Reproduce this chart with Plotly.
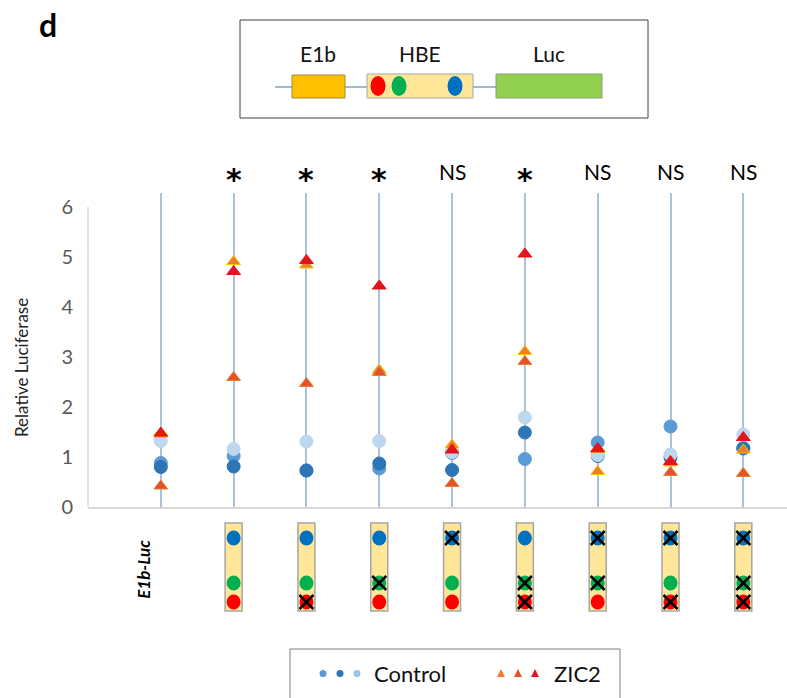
import plotly.graph_objects as go

# ---------------- data ----------------
columns = ["E1b-Luc", "HBE wt", "HBE mutR", "HBE mutG", "HBE mutB",
           "HBE mutGR", "HBE mutBG", "HBE mutBR", "HBE mutBGR"]
sig_labels = ["", "*", "*", "*", "NS", "*", "NS", "NS", "NS"]

control_1 = [0.88, 1.02, 0.73, 0.77, 1.08, 0.96, 1.29, 1.61, 1.18]   # medium blue
control_2 = [0.80, 0.81, 0.73, 0.87, 0.74, 1.49, 1.02, 0.99, 1.17]   # dark blue
control_3 = [1.32, 1.16, 1.31, 1.32, 1.10, 1.79, 1.04, 1.05, 1.45]   # light blue

zic2_1 = [1.45, 4.91, 4.84, 2.74, 1.24, 3.11, 0.71, 0.88, 1.14]      # orange
zic2_2 = [0.42, 2.59, 2.47, 2.69, 0.47, 2.91, 1.15, 0.69, 0.67]      # red-orange
zic2_3 = [1.48, 4.71, 4.93, 4.42, 1.14, 5.06, 1.17, 0.91, 1.39]      # red

# HBE motif sites per construct (None = no HBE element), 1 = mutated
mut_blue = [None, 0, 0, 0, 1, 0, 1, 1, 1]
mut_green = [None, 0, 0, 1, 0, 1, 1, 0, 1]
mut_red = [None, 0, 1, 0, 0, 1, 0, 1, 1]

y_ticks = [0, 1, 2, 3, 4, 5, 6]

# ---------------- layout helpers ----------------
W, H = 787, 698
L, R, T, B = 88, 0, 193, 191
PW, PH = W - L - R, H - T - B
YMAX = 6.28
XMIN, XMAX = -1.0, 8.6
XUNIT = PW / (XMAX - XMIN)   # pixels per category


def px(xp):
    return (xp - L) / PW


def py(yp):
    return (H - B - yp) / PH


FONT = "Lato, 'Open Sans', sans-serif"
xs = list(range(len(columns)))

fig = go.Figure()

series = [
    ("Control", control_1, "#5B9BD5", "#5B9BD5", "circle", 13),
    ("Control", control_2, "#2E75B6", "#2E75B6", "circle", 13),
    ("Control", control_3, "#BDD7EE", "#BDD7EE", "circle", 13),
    ("ZIC2", zic2_1, "#ED7D31", "#FFC000", "triangle-up", 12),
    ("ZIC2", zic2_2, "#E2532A", "#ED7D31", "triangle-up", 12),
    ("ZIC2", zic2_3, "#E3141B", "#E3141B", "triangle-up", 12),
]
for name, vals, col, edge, sym, size in series:
    fig.add_trace(go.Scatter(
        x=xs, y=vals, mode="markers", name=name, showlegend=False,
        marker=dict(color=col, symbol=sym, size=size,
                    line=dict(color=edge, width=1)),
        cliponaxis=False, hoverinfo="y"))

# ---------------- motif boxes under the axis ----------------
row_py = {"blue": 538, "green": 583, "red": 602}
row_col = {"blue": "#0070C0", "green": "#00B050", "red": "#FF0000"}
shapes = []
for i in xs:
    if mut_blue[i] is None:
        continue
    shapes.append(dict(type="rect", xref="x", yref="paper",
                       x0=i - 8.5 / XUNIT, x1=i + 8.5 / XUNIT, y0=py(523), y1=py(611),
                       fillcolor="#FFE699", line=dict(color="#A6A6A6", width=1.5)))

rr = 7.0 / XUNIT
for key, muts in (("blue", mut_blue), ("green", mut_green), ("red", mut_red)):
    cy = row_py[key]
    for i in xs:
        if muts[i] is None:
            continue
        shapes.append(dict(type="circle", xref="x", yref="paper",
                           x0=i - rr, x1=i + rr, y0=py(cy + 7.5), y1=py(cy - 7.5),
                           fillcolor=row_col[key], line=dict(width=0)))
        if muts[i] == 1:
            xr = 7.0 / XUNIT
            path = "M {a} {b} L {c} {d} M {a} {d} L {c} {b}".format(
                a=i - xr, b=py(cy - 7), c=i + xr, d=py(cy + 7))
            shapes.append(dict(type="path", xref="x", yref="paper", path=path,
                               line=dict(color="black", width=2.5)))

# y axis line (only up to 6)
shapes.append(dict(type="line", xref="paper", yref="y", x0=0, x1=0, y0=0, y1=6,
                   line=dict(color="#D9D9D9", width=1.5)))

# ---------------- top schematic ----------------
shapes.append(dict(type="rect", xref="paper", yref="paper",
                   x0=px(240), x1=px(648), y0=py(20), y1=py(118),
                   line=dict(color="#404040", width=1), fillcolor="white"))
shapes.append(dict(type="line", xref="paper", yref="paper",
                   x0=px(275), x1=px(497), y0=py(87), y1=py(87),
                   line=dict(color="#7FA3C5", width=1.5)))
shapes.append(dict(type="rect", xref="paper", yref="paper",
                   x0=px(292), x1=px(345), y0=py(75), y1=py(98),
                   fillcolor="#FFC000", line=dict(color="#A68A3A", width=1)))
shapes.append(dict(type="rect", xref="paper", yref="paper",
                   x0=px(367), x1=px(473), y0=py(74), y1=py(98),
                   fillcolor="#FFE699", line=dict(color="#A6A6A6", width=1)))
shapes.append(dict(type="rect", xref="paper", yref="paper",
                   x0=px(496), x1=px(602), y0=py(74), y1=py(98),
                   fillcolor="#92D050", line=dict(color="#8C9C7C", width=1)))
for cx, col in ((378, "#FF0000"), (399, "#00B050"), (455, "#0070C0")):
    shapes.append(dict(type="circle", xref="paper", yref="paper",
                       x0=px(cx - 7.5), x1=px(cx + 7.5), y0=py(76), y1=py(96),
                       fillcolor=col, line=dict(width=0)))

# ---------------- legend ----------------
shapes.append(dict(type="rect", xref="paper", yref="paper",
                   x0=px(290), x1=px(620), y0=py(700), y1=py(649),
                   line=dict(color="#7F7F7F", width=1), fillcolor="white"))
for cx, col in ((323, "#5B9BD5"), (340, "#2E75B6"), (357, "#9DC3E6")):
    shapes.append(dict(type="circle", xref="paper", yref="paper",
                       x0=px(cx - 3.5), x1=px(cx + 3.5), y0=py(677), y1=py(670),
                       fillcolor=col, line=dict(width=0)))
for cx, col in ((501, "#ED7D31"), (518, "#E2532A"), (535, "#E3141B")):
    shapes.append(dict(type="path", xref="paper", yref="paper",
                       path="M {} {} L {} {} L {} {} Z".format(
                           px(cx - 4), py(677), px(cx + 4), py(677), px(cx), py(669)),
                       fillcolor=col, line=dict(width=0)))

annotations = []
annotations.append(dict(text="Control", x=px(372), y=py(673), xref="paper", yref="paper",
                        xanchor="left", yanchor="middle", showarrow=False,
                        font=dict(family=FONT, size=22, color="#111111")))
annotations.append(dict(text="ZIC2", x=px(552), y=py(673), xref="paper", yref="paper",
                        xanchor="left", yanchor="middle", showarrow=False,
                        font=dict(family=FONT, size=22, color="#111111")))

for lbl, cx in (("E1b", 318), ("HBE", 420), ("Luc", 549)):
    annotations.append(dict(text=lbl, x=px(cx), y=py(53), xref="paper", yref="paper",
                            xanchor="center", yanchor="middle", showarrow=False,
                            font=dict(family=FONT, size=21, color="#111111")))

annotations.append(dict(text="<b>d</b>", x=px(37), y=py(24), xref="paper", yref="paper",
                        xanchor="left", yanchor="middle", showarrow=False,
                        font=dict(family=FONT, size=32, color="black")))

annotations.append(dict(text="Relative Luciferase", x=px(21), y=py(368),
                        xref="paper", yref="paper", textangle=-90,
                        xanchor="center", yanchor="middle", showarrow=False,
                        font=dict(family=FONT, size=17, color="#222222")))

annotations.append(dict(text="<b><i>E1b-Luc</i></b>", x=0, y=py(569),
                        xref="x", yref="paper", textangle=-90, xshift=-18,
                        xanchor="center", yanchor="middle", showarrow=False,
                        font=dict(family=FONT, size=17, color="black")))

for i, s in enumerate(sig_labels):
    if not s:
        continue
    if s == "*":
        annotations.append(dict(text="<b>*</b>", x=i, y=py(179), xref="x", yref="paper",
                                xanchor="center", yanchor="middle", showarrow=False,
                                font=dict(family="DejaVu Sans", size=30, color="black")))
    else:
        annotations.append(dict(text=s, x=i, y=py(172), xref="x", yref="paper",
                                xanchor="center", yanchor="middle", showarrow=False,
                                font=dict(family=FONT, size=21, color="black")))

fig.update_layout(
    width=W, height=H,
    margin=dict(l=L, r=R, t=T, b=B, pad=0),
    paper_bgcolor="white", plot_bgcolor="white",
    showlegend=False,
    shapes=shapes, annotations=annotations,
    xaxis=dict(range=[XMIN, XMAX], tickvals=xs, showticklabels=False, ticks="",
               showgrid=True, gridcolor="#A9C3DC", gridwidth=2,
               showline=True, linecolor="#D9D9D9", linewidth=1.5,
               zeroline=False, fixedrange=True),
    yaxis=dict(range=[0, YMAX], tickvals=y_ticks, showgrid=False, zeroline=False,
               showline=False, ticks="", ticklabelstandoff=14,
               tickfont=dict(family=FONT, size=20, color="#595959"),
               fixedrange=True),
)

fig.write_html("out.html", config={"displayModeBar": False},
               post_script="document.body.style.margin='0px';")
